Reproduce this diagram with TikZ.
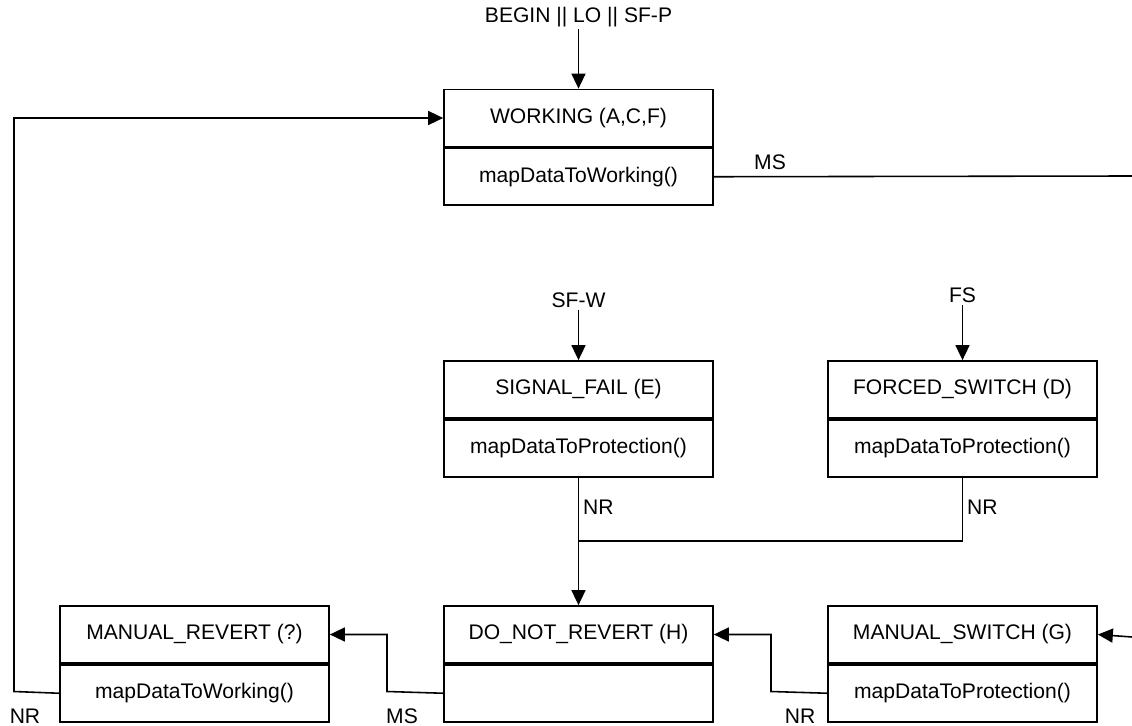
\documentclass[tikz,border=0pt]{standalone}
\usepackage{fontspec}
\setmainfont{Liberation Sans}
\usetikzlibrary{arrows.meta}
\usetikzlibrary{positioning}

\tikzset{
    stpart/.style={draw,line width=1pt,minimum width=5.38cm,minimum height=1.14cm,inner sep=0pt,font=\fontsize{12}{14}\selectfont},
    lbl/.style={inner sep=1pt,font=\fontsize{12}{14}\selectfont},
    flow/.style={line width=0.9pt,-{Triangle[length=0.3cm,width=0.28cm]}},
    wire/.style={line width=0.9pt}
}

\begin{document}
\begin{tikzpicture}[x=0.02cm,y=-0.02cm]
            \useasboundingbox (0,0) rectangle (1132,726);
            % states
            \node[stpart] (wt) at (578.5,118) {WORKING (A,C,F)};
            \node[stpart,below=0pt of wt] (wb) {mapDataToWorking()};
            \node[stpart] (sft) at (578.5,389.5) {SIGNAL\_FAIL (E)};
            \node[stpart,below=0pt of sft] (sfb) {mapDataToProtection()};
            \node[stpart] (fst) at (962.5,389.5) {FORCED\_SWITCH (D)};
            \node[stpart,below=0pt of fst] (fsb) {mapDataToProtection()};
            \node[stpart] (mrt) at (194.5,634.5) {MANUAL\_REVERT (?)};
            \node[stpart,below=0pt of mrt] (mrb) {mapDataToWorking()};
            \node[stpart] (dnt) at (578.5,634.5) {DO\_NOT\_REVERT (H)};
            \node[stpart,below=0pt of dnt] (dnb) {};
            \node[stpart] (mst) at (962.5,634.5) {MANUAL\_SWITCH (G)};
            \node[stpart,below=0pt of mst] (msb) {mapDataToProtection()};
            % inputs
            \node[lbl] (lbegin) at (578.5,17) {BEGIN || LO || SF-P};
            \node[lbl] (lsfw) at (578.5,300) {SF-W};
            \node[lbl] (lfs) at (962.5,295) {FS};
            \draw[flow] (lbegin.south) -- (wt.north);
            \draw[flow] (lsfw.south) -- (sft.north);
            \draw[flow] (lfs.south) -- (fst.north);
            % transitions
            \coordinate (msout) at (1132,176);
            \coordinate (msin) at (1132,637);
            \coordinate (join) at (578.5,541);
            \draw[wire] (wb.east) -- (msout);
            \node[lbl] at (770,162) {MS};
            \draw[flow] (sfb.south) -- (dnt.north);
            \node[lbl,right] at (581,507) {NR};
            \draw[wire] (fsb.south) |- (join);
            \node[lbl,right] at (965,507) {NR};
            \draw[flow] (mrb.west) -- (14,691.5) |- (wt.west);
            \node[lbl] at (25,716) {NR};
            \draw[flow] (dnb.west) -- (387,691.5) |- (mrt.east);
            \node[lbl] at (402,716) {MS};
            \draw[flow] (msb.west) -- (771,691.5) |- (dnt.east);
            \node[lbl] at (800,716) {NR};
            \draw[flow] (msin) -- (mst.east);
        \end{tikzpicture}
\end{document}
